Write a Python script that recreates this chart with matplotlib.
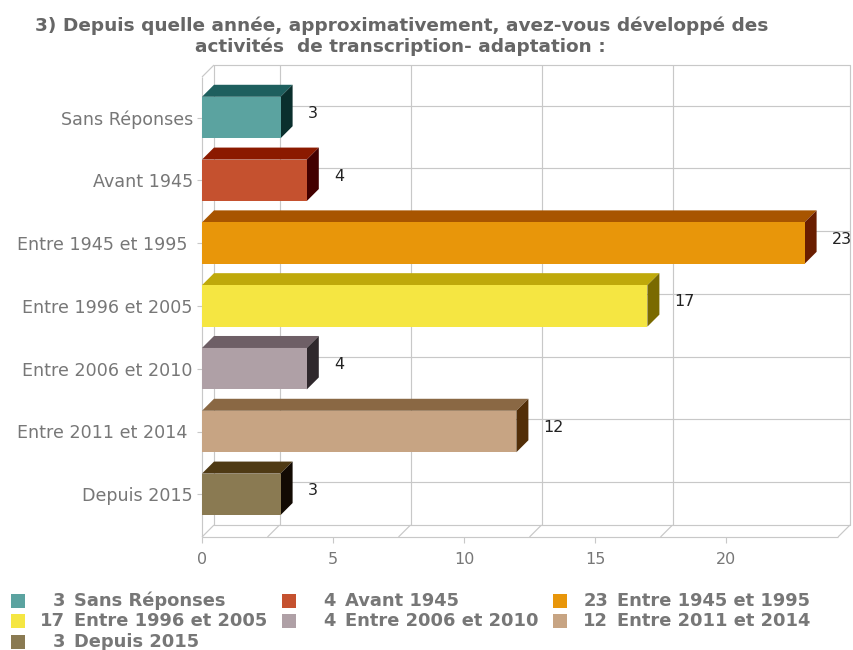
import matplotlib
matplotlib.use("Agg")
import matplotlib.pyplot as plt
from matplotlib.patches import Polygon, Rectangle

categories = ["Sans Réponses", "Avant 1945", "Entre 1945 et 1995", "Entre 1996 et 2005",
              "Entre 2006 et 2010", "Entre 2011 et 2014", "Depuis 2015"]
tick_labels = ["Sans Réponses", "Avant 1945", "Entre 1945 et 1995 ", "Entre 1996 et 2005",
               "Entre 2006 et 2010", "Entre 2011 et 2014 ", "Depuis 2015"]
values = [3, 4, 23, 17, 4, 12, 3]
front_colors = ["#5BA3A0", "#C5512F", "#E8960A", "#F5E642", "#AFA0A6", "#C7A483", "#8A7A52"]
top_colors = ["#1E5F5E", "#8B1A00", "#A85500", "#BFA90A", "#6E5F66", "#8A6844", "#4F3A14"]
side_colors = ["#0A2F2D", "#430000", "#6A1E00", "#7A6A00", "#2F282C", "#522E08", "#120A03"]
x_ticks = [0, 5, 10, 15, 20]
wall_lines = [2.5, 7.5, 12.5, 17.5]

W, H = 854, 650
fig = plt.figure(figsize=(W / 100, H / 100), dpi=100, facecolor="white")
L, R, T, B = 202, 838, 77, 537
ax = fig.add_axes([L / W, 1 - B / H, (R - L) / W, (B - T) / H])
px_x, px_y = 26.2, 62.8
ax.set_xlim(0, (R - L) / px_x)
ax.set_ylim((B - 117.5) / px_y, (T - 117.5) / px_y)
dx, dy = 12 / px_x, 12 / px_y
ax.patch.set_visible(False)
for s in ax.spines.values():
    s.set_visible(False)

grid = "#c8c8c8"
xmax = ax.get_xlim()[1]
ybot, ytop = ax.get_ylim()
kw = dict(color=grid, lw=0.85, clip_on=False, zorder=1, solid_capstyle="butt")
# back wall and floor
ax.plot([dx, xmax + dx, xmax + dx, dx, dx], [ytop - dy] * 2 + [ybot - dy] * 2 + [ytop - dy], **kw)
ax.plot([0, 0], [ytop, ybot], **kw)
ax.plot([0, xmax], [ybot, ybot], **kw)
ax.plot([0, dx], [ytop, ytop - dy], **kw)
ax.plot([0, dx], [ybot, ybot - dy], **kw)
ax.plot([xmax, xmax + dx], [ybot, ybot - dy], **kw)
for v in wall_lines:
    ax.plot([v + dx, v + dx], [ytop - dy, ybot - dy], **kw)
    ax.plot([v, v + dx], [ybot, ybot - dy], **kw)
for i in range(len(categories)):
    ax.plot([dx, xmax + dx], [i - dy, i - dy], **kw)

hh = 0.33
for i, (v, f, t, s) in enumerate(zip(values, front_colors, top_colors, side_colors)):
    ax.add_patch(Polygon([(0, i - hh), (v, i - hh), (v + dx, i - hh - dy), (dx, i - hh - dy)],
                         fc=t, ec="none", zorder=3, clip_on=False))
    ax.add_patch(Polygon([(v, i - hh), (v + dx, i - hh - dy), (v + dx, i + hh - dy), (v, i + hh)],
                         fc=s, ec="none", zorder=3, clip_on=False))
    ax.add_patch(Rectangle((0, i - hh), v, 2 * hh, fc=f, ec="none", zorder=4, clip_on=False))
    ax.annotate(str(v), (v, i), xytext=(27, 4), textcoords="offset pixels", ha="left", va="center",
                fontsize=11.5, color="#222222", zorder=5, annotation_clip=False)

ax.set_xticks(x_ticks)
ax.set_yticks(range(len(categories)))
ax.set_yticklabels(tick_labels)
ax.tick_params(axis="x", length=4.5, width=0.8, color=grid, labelcolor="#777777", labelsize=11.5, pad=6)
ax.tick_params(axis="y", length=3.5, width=0.8, color=grid, labelcolor="#777777", labelsize=12.6, pad=3)

fig.text(402 / W, 1 - 26 / H, "3) Depuis quelle année, approximativement, avez-vous développé des",
         ha="center", va="center", fontsize=13.3, fontweight="bold", color="#666666")
fig.text(400 / W, 1 - 47 / H, "activités  de transcription- adaptation :",
         ha="center", va="center", fontsize=13.3, fontweight="bold", color="#666666")

# legend, read in reading order
legend_cols = [0, 1, 2, 0, 1, 2, 0]
legend_rows = [0, 0, 0, 1, 1, 1, 2]
swatch_x = [11, 282, 553]
number_end = [65, 336, 608]
row_y = [601, 621, 642]
for name, v, c, col, row in zip(categories, values, front_colors, legend_cols, legend_rows):
    y = row_y[row]
    fig.add_artist(Rectangle((swatch_x[col] / W, 1 - (y + 7) / H), 14 / W, 14 / H, fc=c, ec="none",
                             transform=fig.transFigure))
    fig.text(number_end[col] / W, 1 - y / H, str(v), ha="right", va="center", fontsize=12.9,
             fontweight="bold", color="#777777")
    fig.text((number_end[col] + 9) / W, 1 - y / H, name, ha="left", va="center", fontsize=12.9,
             fontweight="bold", color="#777777")

fig.savefig("out.png", dpi=100)
